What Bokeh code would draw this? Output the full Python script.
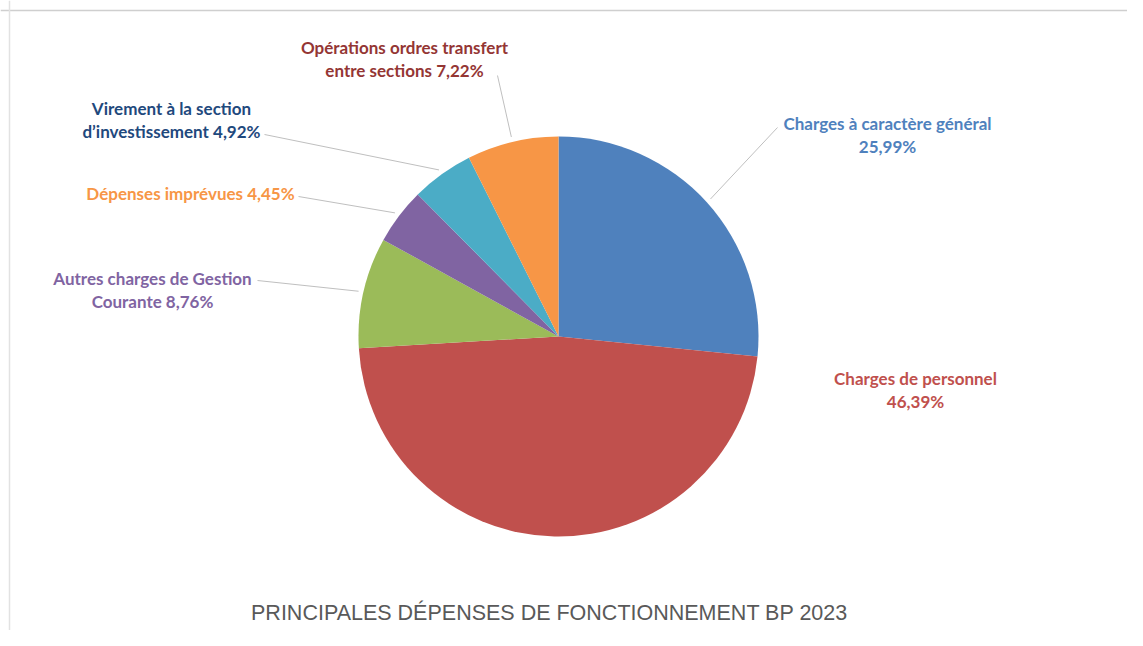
import math
from bokeh.plotting import figure
from bokeh.models import Range1d, ColumnDataSource, Span
from bokeh.core.properties import value
from bokeh.embed import file_html
from bokeh.resources import INLINE

# ---- data ----
categories = [
    "Charges à caractère général",
    "Charges de personnel",
    "Autres charges de Gestion Courante",
    "Dépenses imprévues",
    "Virement à la section d’investissement",
    "Opérations ordres transfert entre sections",
]
values = [25.99, 46.39, 8.76, 4.45, 4.92, 7.22]
label_templates = [
    ["Charges à caractère général", "{pct}"],
    ["Charges de personnel", "{pct}"],
    ["Autres charges de Gestion", "Courante {pct}"],
    ["Dépenses imprévues {pct}"],
    ["Virement à la section", "d’investissement {pct}"],
    ["Opérations ordres transfert", "entre sections {pct}"],
]
title = "PRINCIPALES DÉPENSES DE FONCTIONNEMENT BP 2023"

# ---- styles / layout ----
slice_colors = ["#4F81BD", "#C0504D", "#9BBB59", "#8064A2", "#4BACC6", "#F79646"]
label_colors = ["#4F81BD", "#C0504D", "#8064A2", "#F79646", "#1F497D", "#943634"]
W, H = 1127, 630
CX, CY, R = 558, 294, 200
# label anchor (center x, first-line y) in figure coords
label_pos = [(887, 507), (915, 252), (152, 352), (190, 437), (171, 522), (404, 583)]
LINE_GAP = 22.5
# leader line outer endpoints (None = no leader)
leader_out = [(777, 503), None, (257, 350), (298, 434), (264, 496), (497, 555)]

total = sum(values)

p = figure(width=W, height=H, x_range=Range1d(0, W), y_range=Range1d(0, H),
           output_backend="svg", toolbar_location=None, min_border=0,
           x_axis_location=None, y_axis_location=None)
p.grid.visible = False
p.outline_line_color = None
p.background_fill_color = "white"

# frame lines (top and left)
p.add_layout(Span(location=620, dimension="width", line_color="#CFCFCF", line_width=1.5))
p.add_layout(Span(location=9, dimension="height", line_color="#E2E2E2", line_width=1.5))

starts, ends, mids = [], [], []
cum = 0.0
for v in values:
    a0 = math.pi / 2 - cum / total * 2 * math.pi
    cum += v
    a1 = math.pi / 2 - cum / total * 2 * math.pi
    starts.append(a0)
    ends.append(a1)
    mids.append((a0 + a1) / 2)

src = ColumnDataSource(dict(start=starts, end=ends, color=slice_colors, cat=categories))
p.wedge(x=CX, y=CY, radius=R, start_angle="start", end_angle="end",
        direction="clock", fill_color="color", line_color=None, source=src)

# leader lines
xs, ys = [], []
for m, out in zip(mids, leader_out):
    if out is None:
        continue
    rr = R + 5
    xs.append([out[0], CX + rr * math.cos(m)])
    ys.append([out[1], CY + rr * math.sin(m)])
p.multi_line(xs=xs, ys=ys, line_color="#BFBFBF", line_width=1)

# labels
tx, ty, tt, tc = [], [], [], []
for v, tpl, (lx, ly), col in zip(values, label_templates, label_pos, label_colors):
    pct = f"{v:.2f}".replace(".", ",") + "%"
    for i, line in enumerate(tpl):
        tx.append(lx)
        ty.append(ly - i * LINE_GAP)
        tt.append(line.format(pct=pct))
        tc.append(col)
p.text(x=tx, y=ty, text=tt, text_color=tc, text_align="center", text_baseline="middle",
       text_font=value("Lato"), text_font_style="bold", text_font_size="17px")

# title
p.text(x=[549], y=[18], text=[title], text_color="#595959", text_align="center",
       text_baseline="middle", text_font=value("Liberation Sans"), text_font_size="21.5px")

open("out.html", "w").write(file_html(p, INLINE))
